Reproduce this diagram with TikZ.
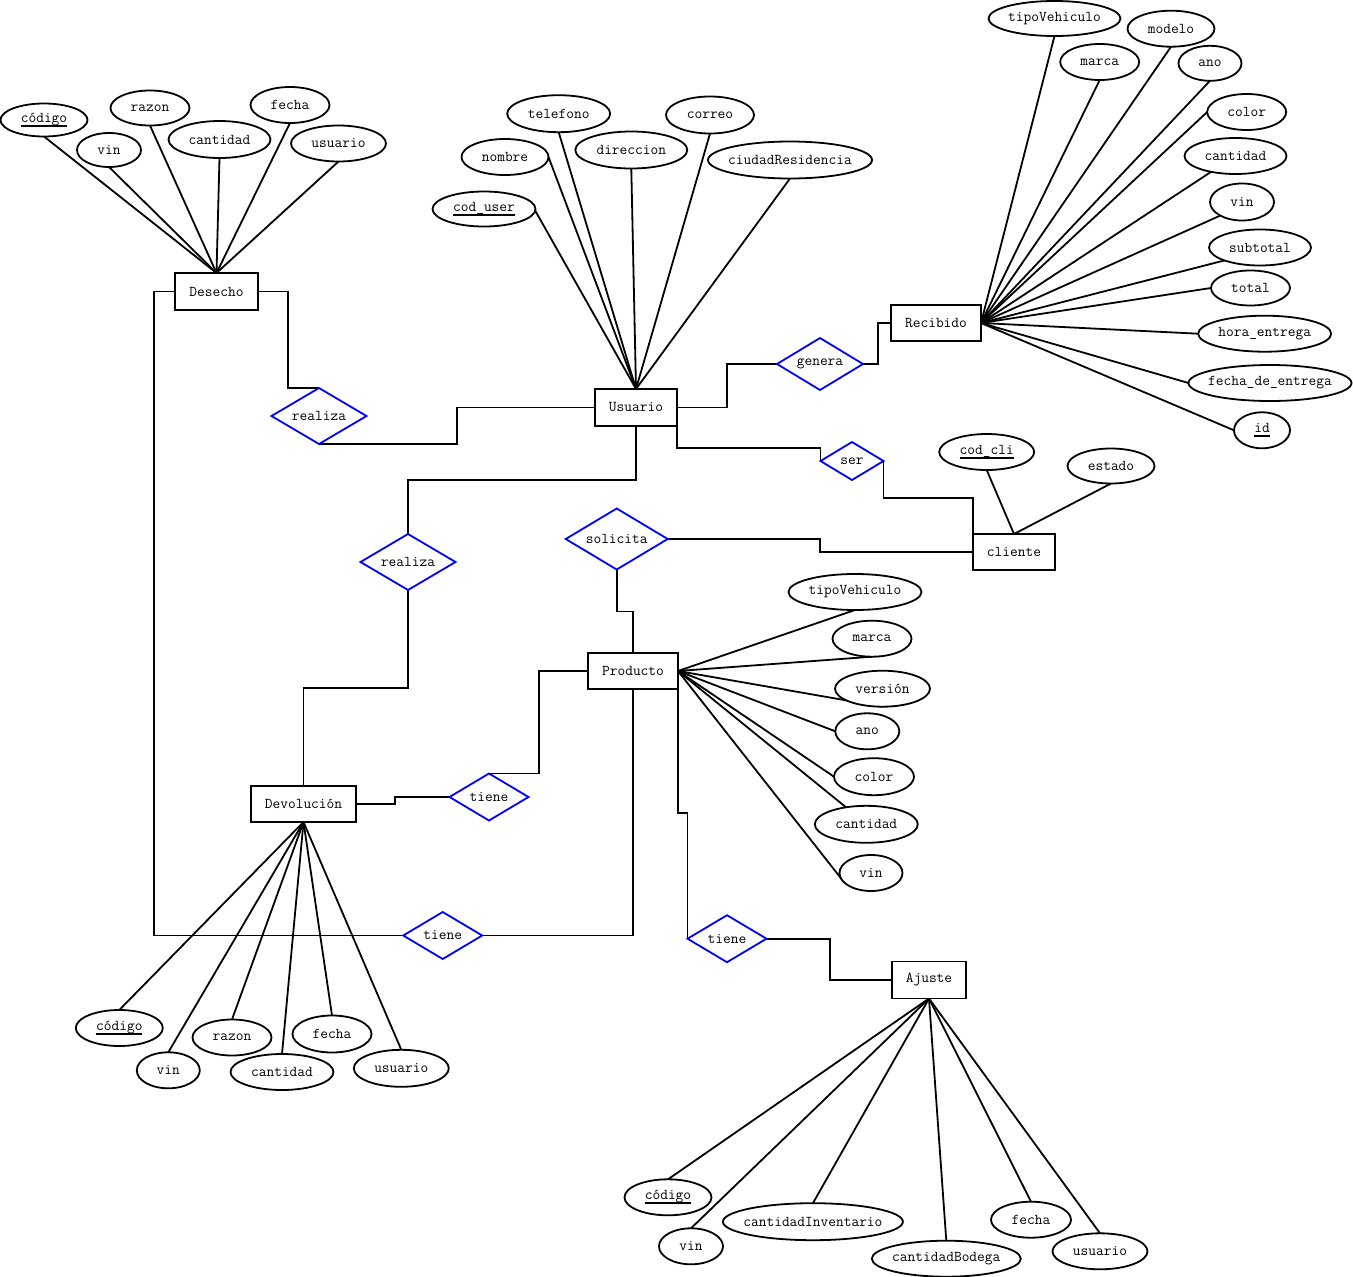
\documentclass[tikz,border=0pt]{standalone}
\usepackage{fontspec}
\usetikzlibrary{shapes.geometric,backgrounds}
% centred label of zero width, so the outline keeps its own size
\newcommand{\ctext}[1]{\makebox[0pt]{#1}}
% key attribute: text with a thick rule below
\newcommand{\keyname}[1]{\setbox0\hbox{#1}\rlap{\rule[-4pt]{\wd0}{1.7pt}}\box0}

\begin{document}
\begin{tikzpicture}[x=1pt,y=-1pt,
  every node/.style={font=\fontsize{15}{18}\selectfont\ttfamily, inner sep=0pt, outer sep=0pt},
  ent/.style 2 args={draw, rectangle, fill=white, line width=1.8pt, minimum width=#1, minimum height=#2},
  rel/.style 2 args={draw=blue, diamond, fill=white, line width=1.8pt, aspect=1.7, minimum width=#1, minimum height=#2},
  attr/.style 2 args={draw, ellipse, fill=white, line width=1.8pt, minimum width=#1, minimum height=#2},
  link/.style={line width=1.8pt}
]
\useasboundingbox (0,0) rectangle (1353,1277);

% ---------------- entities ----------------
\node[ent={83}{37}]  (desecho)  at (216.5,291.5) {Desecho};
\node[ent={82}{37}]  (usuario)  at (636,407.5)   {Usuario};
\node[ent={90}{36}]  (recibido) at (936,323)     {Recibido};
\node[ent={82}{36}]  (cliente)  at (1014,552)    {cliente};
\node[ent={90}{36}]  (producto) at (633,671)     {Producto};
\node[ent={105}{36}] (devol)    at (303.5,804)   {Devolución};
\node[ent={74}{37}]  (ajuste)   at (929,980)     {Ajuste};

% ---------------- relationships ----------------
\node[rel={95}{56}]  (realizaA) at (319,416)     {realiza};
\node[rel={95}{56}]  (realizaB) at (408,562)     {realiza};
\node[rel={102}{61}] (solicita) at (616.7,539)   {solicita};
\node[rel={86}{52}]  (genera)   at (820,364)     {genera};
\node[rel={63}{38}]  (ser)      at (852,461)     {ser};
\node[rel={79}{47}]  (tieneA)   at (489,797)     {tiene};
\node[rel={79}{47}]  (tieneB)   at (442.7,935.5) {tiene};
\node[rel={79}{47}]  (tieneC)   at (727,938.7)   {tiene};

% ---------------- attributes of Desecho ----------------
\node[attr={87}{33}]  (dcod) at (44,120)       {\ctext{\keyname{código}}};
\node[attr={64}{34}]  (dvin) at (109,150)      {\ctext{vin}};
\node[attr={79}{35}]  (draz) at (150,108)      {\ctext{razon}};
\node[attr={102}{37}] (dcan) at (219.5,139.5)  {\ctext{cantidad}};
\node[attr={79}{36}]  (dfec) at (290,105)      {\ctext{fecha}};
\node[attr={95}{36}]  (dusu) at (338.5,143.5)  {\ctext{usuario}};

% ---------------- attributes of Usuario ----------------
\node[attr={103}{37}] (utel) at (558.7,113.7)  {\ctext{telefono}};
\node[attr={88}{37}]  (ucor) at (710,115)      {\ctext{correo}};
\node[attr={87}{36}]  (unom) at (505,157)      {\ctext{nombre}};
\node[attr={112}{37}] (udir) at (631.3,150)    {\ctext{direccion}};
\node[attr={164}{37}] (uciu) at (790,160)      {\ctext{ciudadResidencia}};
\node[attr={103}{35}] (ucod) at (484,209)      {\ctext{\keyname{cod\_user}}};

% ---------------- attributes of Recibido ----------------
\node[attr={132}{35}] (rtip) at (1054.5,18.5)  {\ctext{tipoVehiculo}};
\node[attr={87}{36}]  (rmod) at (1171,28.7)    {\ctext{modelo}};
\node[attr={79}{36}]  (rmar) at (1099.7,62)    {\ctext{marca}};
\node[attr={63}{35}]  (rano) at (1210,63.3)    {\ctext{ano}};
\node[attr={79}{36}]  (rcol) at (1246.7,112)   {\ctext{color}};
\node[attr={102}{36}] (rcan) at (1235.5,156)   {\ctext{cantidad}};
\node[attr={64}{37}]  (rvin) at (1242,202)     {\ctext{vin}};
\node[attr={102}{36}] (rsub) at (1260,247.5)   {\ctext{subtotal}};
\node[attr={79}{35}]  (rtot) at (1250.5,288)   {\ctext{total}};
\node[attr={133}{36}] (rhor) at (1264.7,333.7) {\ctext{hora\_entrega}};
\node[attr={163}{36}] (rfec) at (1270,383)     {\ctext{fecha\_de\_entrega}};
\node[attr={56}{36}]  (rid)  at (1262,430.3)   {\ctext{\keyname{id}}};

% ---------------- attributes of cliente ----------------
\node[attr={95}{36}]  (ccod) at (986.7,452)    {\ctext{\keyname{cod\_cli}}};
\node[attr={87}{35}]  (cest) at (1111,466)     {\ctext{estado}};

% ---------------- attributes of Producto ----------------
\node[attr={133}{36}] (ptip) at (855,592)      {\ctext{tipoVehiculo}};
\node[attr={79}{36}]  (pmar) at (872,638.7)    {\ctext{marca}};
\node[attr={95}{36}]  (pver) at (882.5,688.7)  {\ctext{versión}};
\node[attr={64}{36}]  (pano) at (867.3,731.3)  {\ctext{ano}};
\node[attr={80}{37}]  (pcol) at (874,776.7)    {\ctext{color}};
\node[attr={103}{37}] (pcan) at (866.3,824.3)  {\ctext{cantidad}};
\node[attr={63}{36}]  (pvin) at (871,873)      {\ctext{vin}};

% ---------------- attributes of Devolución ----------------
\node[attr={87}{36}]  (vcod) at (119.3,1028)   {\ctext{\keyname{código}}};
\node[attr={63}{36}]  (vvin) at (168.3,1070.3) {\ctext{vin}};
\node[attr={79}{36}]  (vraz) at (232,1037.5)   {\ctext{razon}};
\node[attr={103}{36}] (vcan) at (282,1072)     {\ctext{cantidad}};
\node[attr={79}{37}]  (vfec) at (332,1034)     {\ctext{fecha}};
\node[attr={95}{37}]  (vusu) at (401.3,1068.3) {\ctext{usuario}};

% ---------------- attributes of Ajuste ----------------
\node[attr={87}{36}]  (acod) at (668,1197.3)   {\ctext{\keyname{código}}};
\node[attr={64}{36}]  (avin) at (691,1246.3)   {\ctext{vin}};
\node[attr={180}{37}] (ainv) at (812.9,1221.7) {\ctext{cantidadInventario}};
\node[attr={149}{36}] (abod) at (946.3,1258.7) {\ctext{cantidadBodega}};
\node[attr={80}{36}]  (afec) at (1031,1219.7)  {\ctext{fecha}};
\node[attr={95}{36}]  (ausu) at (1100,1251.3)  {\ctext{usuario}};

\begin{scope}[on background layer]
  \fill[white] (0,0) rectangle (1353,1277);
  \begin{scope}[link]
  % attribute links
  \foreach \a in {dcod,dvin,draz,dcan,dfec,dusu} \draw (desecho.north) -- (\a.south);
  \foreach \a in {utel,ucor,udir,uciu} \draw (usuario.north) -- (\a.south);
  \draw (usuario.north) -- (unom.east);
  \draw (usuario.north) -- (ucod.10);
  \foreach \a in {rtip,rmod,rmar,rano} \draw (recibido.east) -- (\a.south);
  \foreach \a in {rcol,rtot,rhor,rfec,rid} \draw (recibido.east) -- (\a.west);
  \draw (recibido.east) -- (rcan.213);
  \draw (recibido.east) -- (rvin.212);
  \draw (recibido.east) -- (rsub.200);
  \foreach \a in {ccod,cest} \draw (cliente.north) -- (\a.south);
  \foreach \a in {ptip,pmar,pver} \draw (producto.east) -- (\a.south);
  \foreach \a in {pano,pcol} \draw (producto.east) -- (\a.west);
  \draw (producto.east) -- (pcan.140);
  \draw (producto.east) -- (pvin.200);
  \foreach \a in {vcod,vvin,vraz,vcan,vfec,vusu} \draw (devol.south) -- (\a.north);
  \foreach \a in {acod,avin,ainv,abod,afec,ausu} \draw (ajuste.south) -- (\a.north);

  % relationship links
  \draw (desecho.east) -- ++(30,0) |- (realizaA.north);
  \draw (realizaA.south) -- ++(138,0) |- (usuario.west);
  \draw (usuario.south) -- ++(0,54) -| (realizaB.north);
  \draw (realizaB.south) -- ++(0,98) -| (devol.north);
  \draw (desecho.west) -- ++(-21,0) |- (tieneB.west);
  \draw (tieneB.east) -| (producto.south);
  \draw (devol.east) -- ++(39,0) |- (tieneA.west);
  \draw (tieneA.north) -- ++(50,0) |- (producto.west);
  \draw (solicita.south) -- ++(0,42) -| (producto.north);
  \draw (solicita.east) -- ++(152.3,0) |- (cliente.west);
  \draw (usuario.east) -- ++(50,0) |- (genera.west);
  \draw (genera.east) -- ++(15,0) |- (recibido.west);
  \draw (usuario.south east) -- ++(0,22) -| (ser.west);
  \draw (ser.east) -- ++(0,37) -| (cliente.north west);
  \draw (producto.south east) -- ++(0,124) -| (tieneC.west);
  \draw (tieneC.east) -- ++(63.5,0) |- (ajuste.west);
  \end{scope}
\end{scope}
\end{tikzpicture}
\end{document}
